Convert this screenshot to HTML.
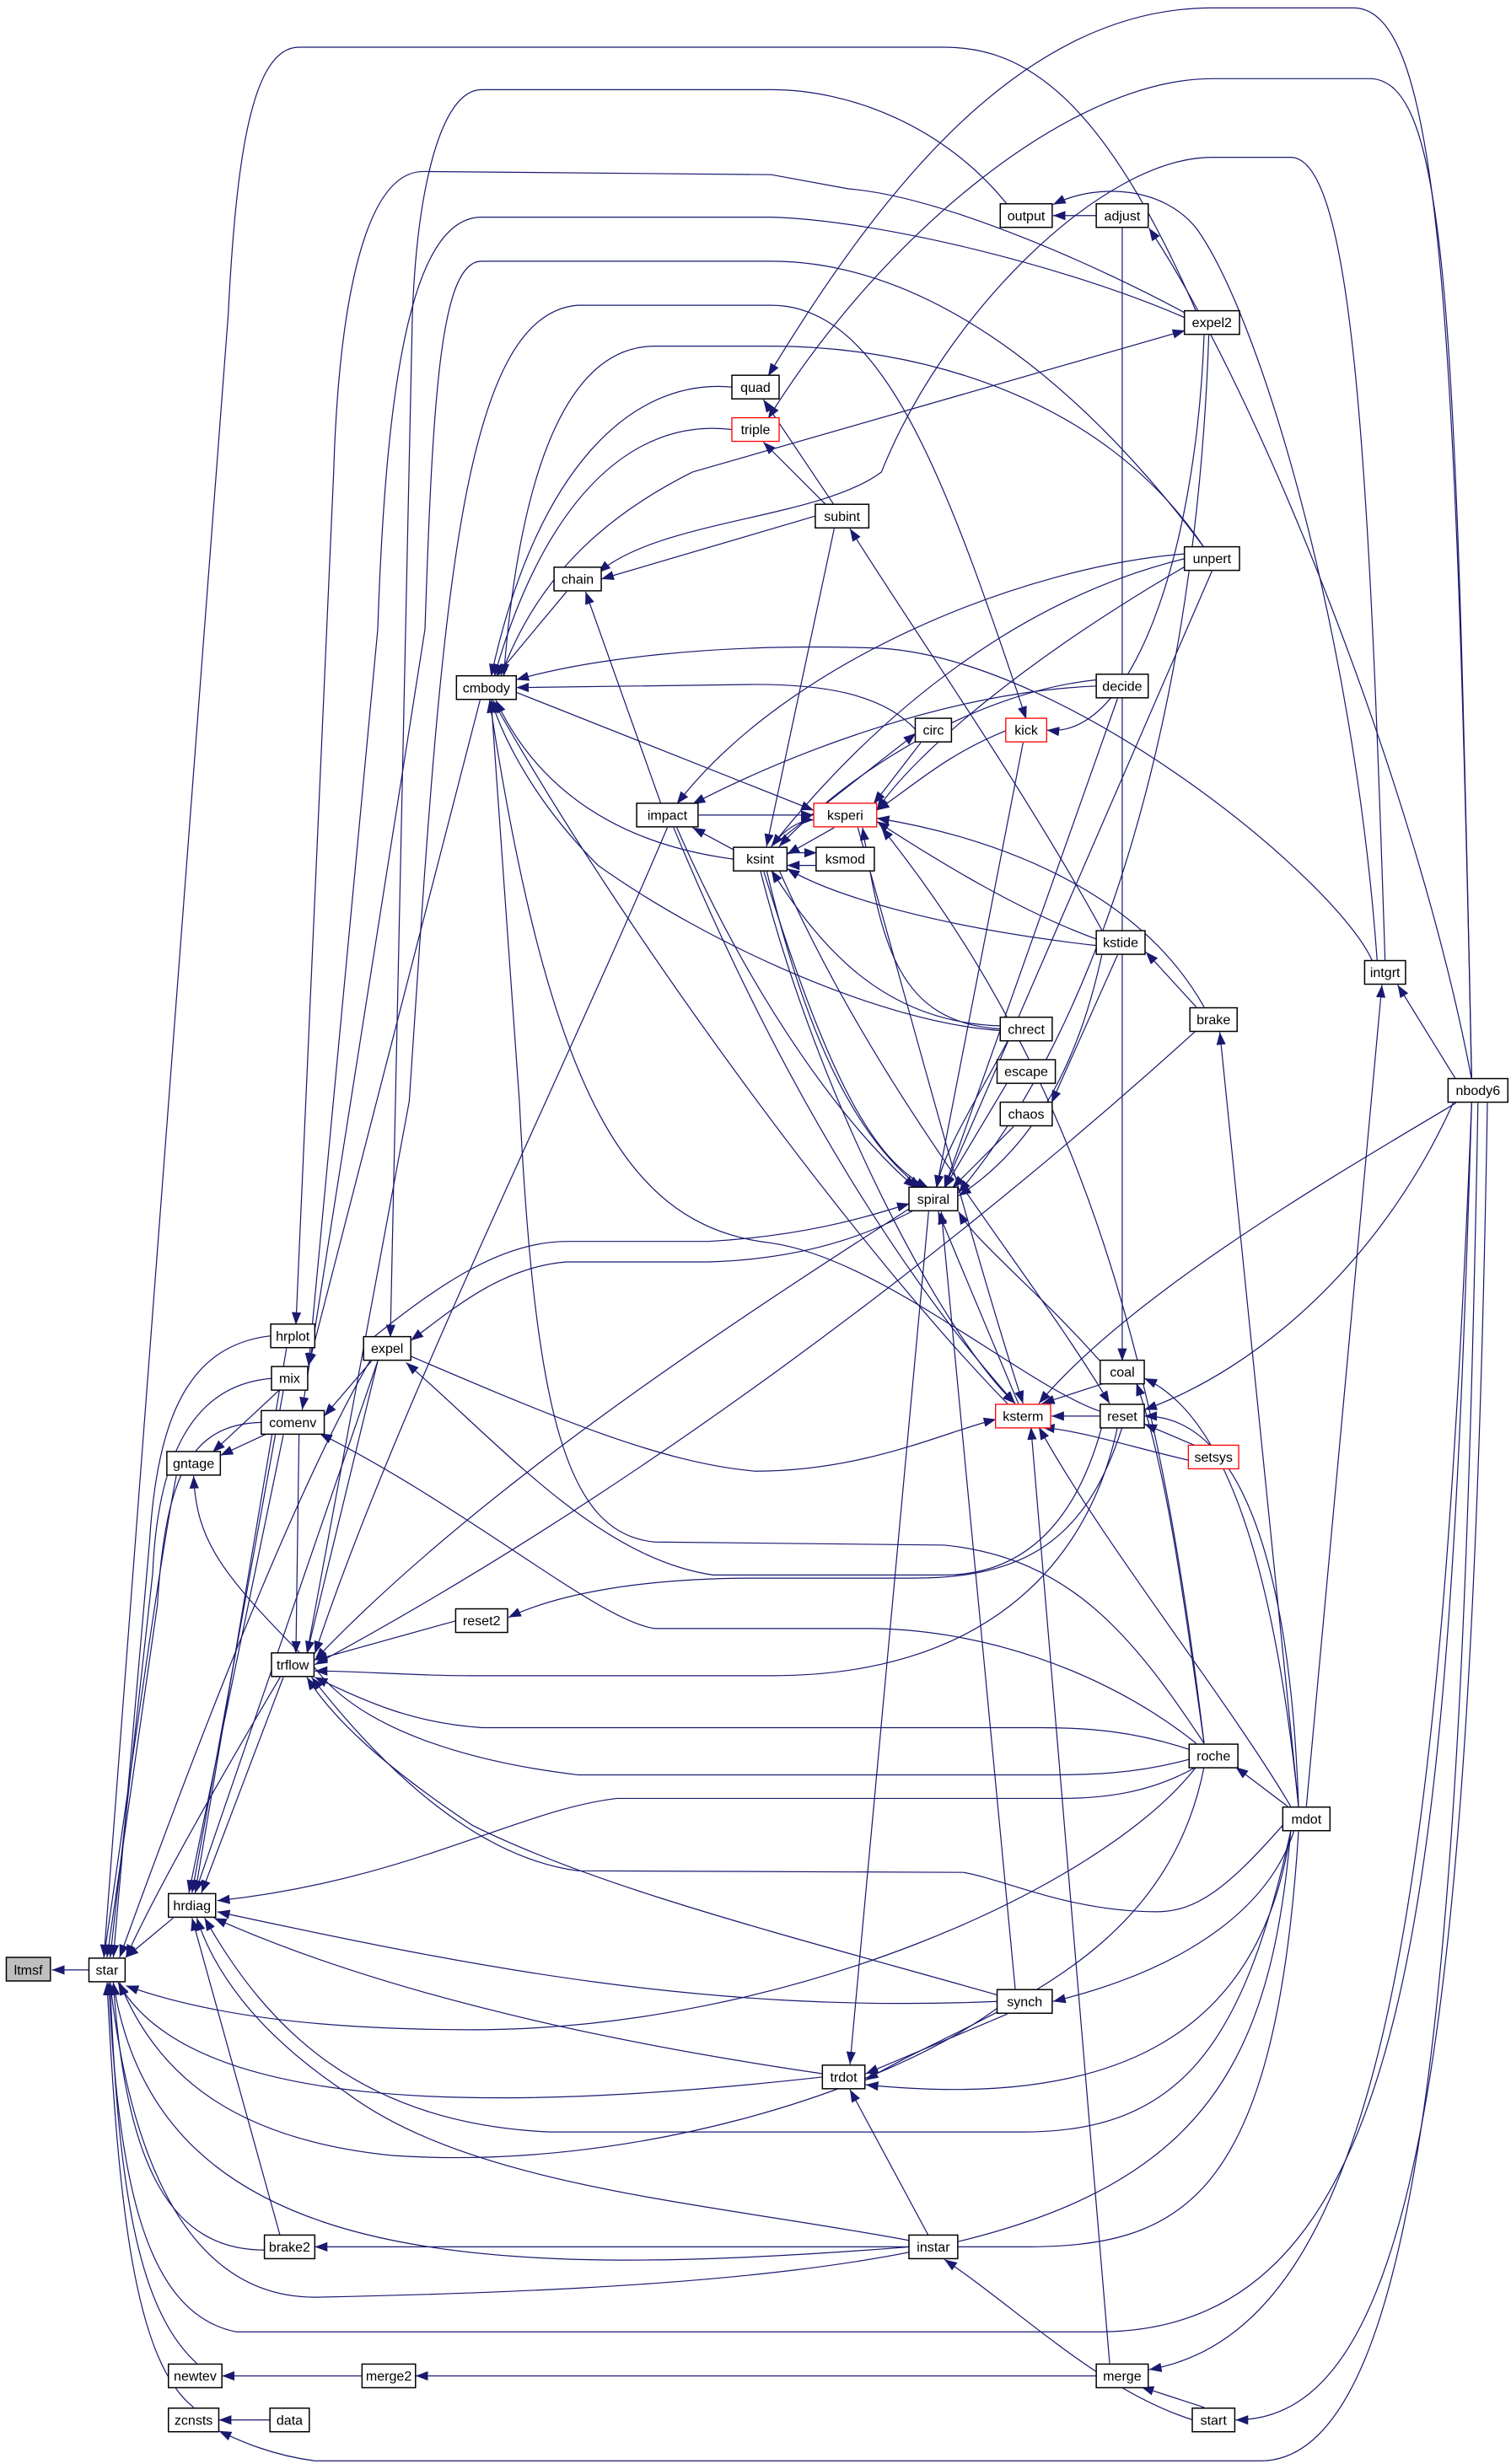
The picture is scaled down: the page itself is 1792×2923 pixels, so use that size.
<!DOCTYPE html>
<html><head><meta charset="utf-8"><style>
html,body{margin:0;padding:0;background:#fff}
svg{display:block}
text{font-family:"Liberation Sans",sans-serif;font-size:8.6px;fill:#000}
.e{fill:none;stroke:#191970;stroke-width:0.65}
.n{fill:#fff;stroke:#000;stroke-width:0.8}
.r{fill:#fff;stroke:#ff0000;stroke-width:0.7}
</style></head><body>
<svg width="1792" height="2923" viewBox="0 0 960 1566" preserveAspectRatio="none" xmlns="http://www.w3.org/2000/svg">
<defs><marker id="a" markerUnits="userSpaceOnUse" markerWidth="8" markerHeight="6" refX="8" refY="3" orient="auto"><path d="M0,0 L8,3 L0,6 z" fill="#191970"/></marker></defs>
<g class="e" marker-end="url(#a)">
<path d="M57,1252 L33,1252"/>
<path d="M110,1219 L80,1244"/>
<path d="M172,849 C120,855 100,900 95,980 L72,1244"/>
<path d="M173,876 C120,880 100,930 97,1000 L70,1244"/>
<path d="M166,904 C120,905 105,940 100,1020 L68,1244"/>
<path d="M112,938 C100,1000 80,1150 66,1244"/>
<path d="M235,865 C180,960 110,1150 76,1244"/>
<path d="M178,1066 C140,1130 100,1200 80,1244"/>
<path d="M168,1430 C110,1430 80,1380 72,1260"/>
<path d="M125,1502 C90,1470 75,1400 70,1260"/>
<path d="M123,1530 C85,1500 75,1400 68,1260"/>
<path d="M578,1428 C300,1450 100,1440 72,1260"/>
<path d="M523,1320 C300,1345 120,1340 75,1260"/>
<path d="M634,1276 C560,1330 400,1380 250,1370 C150,1360 100,1320 76,1260"/>
<path d="M760,1123 C700,1200 500,1290 300,1290 C200,1290 130,1280 80,1262"/>
<path d="M820,1164 C800,1400 700,1450 200,1460 C110,1460 80,1350 70,1260"/>
<path d="M935,701 C920,1200 900,1480 700,1482 L150,1482 C90,1470 75,1380 69,1260"/>
<path d="M760,198 C700,60 650,30 600,30 L190,30 C160,30 150,100 145,200 L66,1244"/>
<path d="M182,857 L124,1203"/>
<path d="M180,884 L122,1203"/>
<path d="M180,912 L120,1203"/>
<path d="M240,865 L124,1203"/>
<path d="M180,1066 L128,1203"/>
<path d="M756,1118 C720,1128 690,1128 661,1128 L367,1128 C300,1120 230,1100 200,1060 C140,1000 125,980 123,938"/>
<path d="M756,1112 C720,1100 690,1098 661,1098 L306,1098 C260,1095 230,1080 200,1066"/>
<path d="M710,907 C690,1000 620,1065 490,1065 L300,1065 C260,1065 230,1062 200,1062"/>
<path d="M713,907 C690,980 650,1003 580,1003 L480,1003 C400,1003 350,1015 323,1028"/>
<path d="M290,1030 L200,1055"/>
<path d="M760,1108 C700,1060 620,1035 551,1035 L416,1035 C380,1030 300,960 203,911"/>
<path d="M765,1108 C720,1040 680,990 600,982 L416,980 C360,975 340,900 330,700 L312,445"/>
<path d="M815,1160 C780,1200 760,1215 735,1215 C680,1215 640,1195 612,1190 L367,1189 C300,1180 240,1120 198,1066"/>
<path d="M760,1123 C730,1140 700,1143 673,1143 L392,1143 C330,1150 260,1195 138,1208"/>
<path d="M634,1268 C500,1230 380,1200 300,1160 C240,1120 210,1090 195,1066"/>
<path d="M634,1272 C450,1280 300,1250 138,1215"/>
<path d="M523,1318 C400,1300 250,1270 136,1219"/>
<path d="M820,1164 C790,1300 750,1355 650,1355 L350,1355 C230,1350 170,1290 130,1219"/>
<path d="M578,1424 C450,1400 300,1390 220,1330 C160,1290 135,1250 125,1219"/>
<path d="M178,1421 L122,1219"/>
<path d="M590,1421 L540,1328"/>
<path d="M640,1280 L550,1318"/>
<path d="M765,1123 C740,1250 620,1280 550,1322"/>
<path d="M820,1164 C800,1300 700,1340 550,1325"/>
<path d="M822,1164 C800,1230 720,1260 669,1272"/>
<path d="M758,1538 C700,1520 650,1470 600,1436"/>
<path d="M825,1164 C810,1400 750,1428 650,1428 L200,1428"/>
<path d="M230,1510 L141,1510"/>
<path d="M697,1510 L264,1510"/>
<path d="M172,1538 L139,1538"/>
<path d="M939,701 C930,1200 910,1566 800,1564 L200,1564 C170,1560 150,1550 139,1545"/>
<path d="M935,701 C915,1200 880,1480 730,1506"/>
<path d="M765,1530 L725,1517"/>
<path d="M945,701 C935,1300 900,1538 785,1538"/>
<path d="M705,1502 L655,907"/>
<path d="M820,1148 C780,1080 700,980 660,907"/>
<path d="M825,1148 C820,1000 790,900 727,900"/>
<path d="M699,900 L668,900"/>
<path d="M760,919 L727,905"/>
<path d="M755,928 C720,920 690,910 662,907"/>
<path d="M765,1108 C750,1000 740,930 722,879"/>
<path d="M702,879 L662,892"/>
<path d="M925,697 C880,800 800,870 727,896"/>
<path d="M925,701 C860,740 720,820 660,892"/>
<path d="M825,1148 C810,1000 780,900 727,876"/>
<path d="M261,862 C350,900 420,930 480,935 C550,935 600,910 633,902"/>
<path d="M236,851 C280,815 320,789 360,789 L450,789 C520,785 560,770 578,765"/>
<path d="M581,769 C560,780 520,800 450,802 L360,802 C320,805 290,830 261,852"/>
<path d="M700,907 C680,980 640,1001 600,1001 L453,1001 C380,990 320,920 258,866"/>
<path d="M360,376 L315,430"/>
<path d="M518,328 L382,368"/>
<path d="M420,511 L372,376"/>
<path d="M465,246 C400,240 340,300 312,430"/>
<path d="M465,273 C400,265 345,320 314,430"/>
<path d="M582,464 C560,440 520,435 480,435 L328,437"/>
<path d="M872,611 C850,560 680,420 560,412 C450,408 370,420 328,432"/>
<path d="M466,546 C420,540 350,520 315,445"/>
<path d="M328,440 L517,515"/>
<path d="M636,655 C560,650 450,600 380,550 C340,510 320,470 312,445"/>
<path d="M640,892 C550,800 400,600 313,445"/>
<path d="M699,897 C650,880 560,800 490,790 C400,780 350,700 311,445"/>
<path d="M640,130 C600,80 540,57 490,57 L306,57 C280,57 265,120 262,200 L248,850"/>
<path d="M755,200 C700,170 600,125 539,120 L490,111 L269,109 C230,109 215,200 212,300 L188,842"/>
<path d="M753,202 C680,170 560,140 490,138 L306,138 C260,138 245,250 240,400 L196,868"/>
<path d="M765,348 C700,260 600,166 490,166 L306,166 C280,166 275,250 270,400 L192,896"/>
<path d="M195,1051 L260,700 C280,400 290,200 367,194 L490,194 C560,194 600,300 652,457"/>
<path d="M765,348 C700,250 580,220 490,220 L416,220 C360,220 330,300 320,430"/>
<path d="M318,430 C340,370 380,330 440,300 L753,210"/>
<path d="M935,686 C925,200 915,5 860,5 L770,5 C650,5 560,120 488,239"/>
<path d="M935,686 C925,200 920,50 870,50 L770,50 C680,50 560,150 488,266"/>
<path d="M880,611 C870,300 860,100 820,100 L770,100 C700,100 600,200 560,300 C520,330 420,330 380,364"/>
<path d="M875,611 C860,400 800,200 760,145 C740,120 700,115 669,130"/>
<path d="M935,686 C900,500 800,250 730,145"/>
<path d="M697,137 L669,137"/>
<path d="M713,145 L713,865"/>
<path d="M768,213 C760,450 700,650 609,758"/>
<path d="M765,213 C760,350 720,470 665,464"/>
<path d="M700,591 C650,500 580,400 540,336"/>
<path d="M530,321 L485,254"/>
<path d="M525,321 L485,281"/>
<path d="M530,336 L487,538"/>
<path d="M753,355 C650,380 560,450 490,538"/>
<path d="M753,352 C650,360 500,420 430,511"/>
<path d="M770,363 L600,755"/>
<path d="M753,360 C650,420 580,480 557,515"/>
<path d="M697,436 C600,440 500,480 440,511"/>
<path d="M697,432 C620,440 540,490 495,538"/>
<path d="M710,444 L600,755"/>
<path d="M585,472 L555,511"/>
<path d="M490,538 L582,466"/>
<path d="M640,464 C600,480 580,500 557,515"/>
<path d="M650,472 L595,755"/>
<path d="M444,518 L517,518"/>
<path d="M466,540 L440,526"/>
<path d="M490,538 C500,525 510,521 517,521"/>
<path d="M530,526 L500,543"/>
<path d="M500,542 L519,542"/>
<path d="M519,550 L500,550"/>
<path d="M697,597 C650,580 600,550 557,522"/>
<path d="M697,601 C600,590 530,570 500,552"/>
<path d="M765,640 C720,560 620,530 557,520"/>
<path d="M760,640 L728,605"/>
<path d="M825,1148 L775,656"/>
<path d="M636,654 C570,650 560,600 548,526"/>
<path d="M636,652 C560,650 520,600 490,553"/>
<path d="M640,662 C620,700 600,730 595,755"/>
<path d="M640,688 L600,755"/>
<path d="M644,716 L605,755"/>
<path d="M700,607 C680,700 640,740 609,760"/>
<path d="M710,607 L668,701"/>
<path d="M487,553 C510,650 540,720 585,755"/>
<path d="M485,553 C530,700 560,740 590,755"/>
<path d="M430,526 C480,640 540,720 582,755"/>
<path d="M428,526 C500,700 580,820 645,892"/>
<path d="M424,526 C350,700 250,900 200,1051"/>
<path d="M483,553 C520,700 600,850 645,892"/>
<path d="M647,892 L596,770"/>
<path d="M590,770 L540,1312"/>
<path d="M645,1264 L598,770"/>
<path d="M705,872 C660,820 620,790 609,770"/>
<path d="M578,768 C450,850 300,950 200,1055"/>
<path d="M545,526 C580,650 620,800 650,892"/>
<path d="M495,553 C560,700 650,800 705,892"/>
<path d="M760,655 C600,800 400,950 200,1058"/>
<path d="M240,865 L195,1051"/>
<path d="M190,911 L188,1051"/>
<path d="M170,911 L140,925"/>
<path d="M178,883 L135,923"/>
<path d="M236,865 L206,900"/>
<path d="M305,445 L196,868"/>
<path d="M818,1148 L785,1123"/>
<path d="M830,1148 L878,626"/>
<path d="M925,686 L888,626"/>
<path d="M765,1108 C740,900 700,700 560,526"/>
</g>
<g>
<rect x="4" y="1244" width="28" height="15" fill="#bfbfbf" stroke="#000" stroke-width="0.8"/><text x="18" y="1255" text-anchor="middle">ltmsf</text>
</g>
<g text-anchor="middle">
<rect class="n" x="56.5" y="1244.5" width="23" height="15"/><text x="68" y="1255">star</text>
<rect class="n" x="107" y="1203.5" width="30" height="15"/><text x="122" y="1214">hrdiag</text>
<rect class="n" x="168" y="1420.5" width="32" height="15"/><text x="184" y="1431">brake2</text>
<rect class="n" x="107" y="1502.5" width="34" height="15"/><text x="124" y="1513">newtev</text>
<rect class="n" x="107" y="1530.5" width="32" height="15"/><text x="123" y="1541">zcnsts</text>
<rect class="n" x="171.5" y="1530.5" width="25" height="15"/><text x="184" y="1541">data</text>
<rect class="n" x="230" y="1502.5" width="34" height="15"/><text x="247" y="1513">merge2</text>
<rect class="n" x="696.5" y="1502.5" width="33" height="15"/><text x="713" y="1513">merge</text>
<rect class="n" x="757.5" y="1530.5" width="27" height="15"/><text x="771" y="1541">start</text>
<rect class="n" x="577.5" y="1420.5" width="31" height="15"/><text x="593" y="1431">instar</text>
<rect class="n" x="522.5" y="1312.5" width="27" height="15"/><text x="536" y="1323">trdot</text>
<rect class="n" x="633.5" y="1264.5" width="35" height="15"/><text x="651" y="1275">synch</text>
<rect class="n" x="815" y="1148.5" width="30" height="15"/><text x="830" y="1159">mdot</text>
<rect class="n" x="755.5" y="1108.5" width="31" height="15"/><text x="771" y="1119">roche</text>
<rect class="n" x="172.5" y="1050.5" width="27" height="15"/><text x="186" y="1061">trflow</text>
<rect class="n" x="289.5" y="1022.5" width="33" height="15"/><text x="306" y="1033">reset2</text>
<rect class="r" x="632.5" y="892.5" width="35" height="15"/><text x="650" y="903">ksterm</text>
<rect class="n" x="699" y="892.5" width="28" height="15"/><text x="713" y="903">reset</text>
<rect class="n" x="699" y="864.5" width="28" height="15"/><text x="713" y="875">coal</text>
<rect class="r" x="755" y="918.5" width="32" height="15"/><text x="771" y="929">setsys</text>
<rect class="n" x="106" y="922.5" width="34" height="15"/><text x="123" y="933">gntage</text>
<rect class="n" x="166" y="896.5" width="40" height="15"/><text x="186" y="907">comenv</text>
<rect class="n" x="172.5" y="868.5" width="23" height="15"/><text x="184" y="879">mix</text>
<rect class="n" x="172" y="841.5" width="28" height="15"/><text x="186" y="852">hrplot</text>
<rect class="n" x="231" y="849.5" width="30" height="15"/><text x="246" y="860">expel</text>
<rect class="n" x="577.5" y="754.5" width="31" height="15"/><text x="593" y="765">spiral</text>
<rect class="n" x="635.5" y="700.5" width="33" height="15"/><text x="652" y="711">chaos</text>
<rect class="n" x="633.5" y="673.5" width="37" height="15"/><text x="652" y="684">escape</text>
<rect class="n" x="635.5" y="646.5" width="33" height="15"/><text x="652" y="657">chrect</text>
<rect class="n" x="756" y="640.5" width="30" height="15"/><text x="771" y="651">brake</text>
<rect class="n" x="696.5" y="591.5" width="31" height="15"/><text x="712" y="602">kstide</text>
<rect class="n" x="466" y="538.5" width="34" height="15"/><text x="483" y="549">ksint</text>
<rect class="n" x="518.5" y="538.5" width="37" height="15"/><text x="537" y="549">ksmod</text>
<rect class="n" x="404.5" y="510.5" width="39" height="15"/><text x="424" y="521">impact</text>
<rect class="r" x="517" y="510.5" width="40" height="15"/><text x="537" y="521">ksperi</text>
<rect class="n" x="581.5" y="456.5" width="23" height="15"/><text x="593" y="467">circ</text>
<rect class="r" x="639" y="456.5" width="26" height="15"/><text x="652" y="467">kick</text>
<rect class="n" x="696.5" y="428.5" width="33" height="15"/><text x="713" y="439">decide</text>
<rect class="n" x="290" y="429.5" width="38" height="15"/><text x="309" y="440">cmbody</text>
<rect class="n" x="352" y="360.5" width="30" height="15"/><text x="367" y="371">chain</text>
<rect class="n" x="752.5" y="347.5" width="35" height="15"/><text x="770" y="358">unpert</text>
<rect class="n" x="518" y="320.5" width="34" height="15"/><text x="535" y="331">subint</text>
<rect class="r" x="465" y="265.5" width="30" height="15"/><text x="480" y="276">triple</text>
<rect class="n" x="465" y="238.5" width="30" height="15"/><text x="480" y="249">quad</text>
<rect class="n" x="752.5" y="197.5" width="35" height="15"/><text x="770" y="208">expel2</text>
<rect class="n" x="635.5" y="129.5" width="33" height="15"/><text x="652" y="140">output</text>
<rect class="n" x="696.5" y="129.5" width="33" height="15"/><text x="713" y="140">adjust</text>
<rect class="n" x="867" y="610.5" width="26" height="15"/><text x="880" y="621">intgrt</text>
<rect class="n" x="920" y="685.5" width="38" height="15"/><text x="939" y="696">nbody6</text>
</g>
</svg>
</body></html>
